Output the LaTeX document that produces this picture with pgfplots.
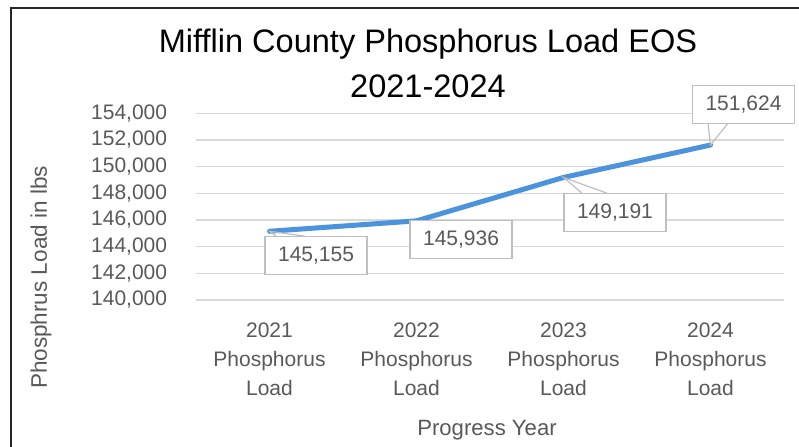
\documentclass[border=0pt]{standalone}
\usepackage{pgfplots}
\pgfplotsset{compat=1.18}
\usepackage{fontspec}
\setmainfont{Liberation Sans}

\definecolor{gridgray}{HTML}{D9D9D9}
\definecolor{textgray}{HTML}{595959}
\definecolor{boxgray}{HTML}{BFBFBF}
\definecolor{loadblue}{HTML}{4B93DC}

\tikzset{
  lbl/.style={draw=boxgray,line width=0.9pt,fill=white,text=textgray,
              minimum width=76.5pt,minimum height=28.5pt,inner sep=0pt,
              font=\fontsize{15.75pt}{18pt}\selectfont},
  lead/.style={boxgray,line width=0.9pt},
}

\begin{document}
\begin{tikzpicture}
\useasboundingbox (0,0) rectangle (599.25pt,334.5pt);

% frame, title and axis titles, laid out in pixel units (y pointing down)
\begin{scope}[x=0.75pt,y=-0.75pt,shift={(0pt,334.5pt)}]
  \draw[line width=1.5pt,black!85] (11,460) -- (11,8) -- (810,8);
  \node[anchor=base,inner sep=0pt,font=\fontsize{24.4pt}{30pt}\selectfont]
    at (428,53) {Mifflin County Phosphorus Load EOS};
  \node[anchor=base,inner sep=0pt,font=\fontsize{24.4pt}{30pt}\selectfont]
    at (428,98) {2021-2024};
  \node[anchor=base,inner sep=0pt,rotate=90,text=textgray,
        font=\fontsize{16.9pt}{20pt}\selectfont]
    at (47,277.5) {Phosphrus Load in lbs};
  \node[anchor=base,inner sep=0pt,text=textgray,
        font=\fontsize{16.6pt}{20pt}\selectfont]
    at (487,435) {Progress Year};
\end{scope}

\begin{axis}[
  at={(147pt,109.5pt)}, anchor=south west,
  scale only axis, width=441pt, height=140pt,
  xmin=-0.5, xmax=3.5,
  ymin=140000, ymax=154000,
  ytick={140000,142000,...,154000},
  xtick={0,1,2,3},
  xticklabels={{2021\\Phosphorus\\Load},{2022\\Phosphorus\\Load},
               {2023\\Phosphorus\\Load},{2024\\Phosphorus\\Load}},
  axis line style={draw=none},
  major tick length=0pt,
  ymajorgrids,
  grid style={gridgray,line width=1.1pt},
  scaled y ticks=false,
  /pgf/number format/.cd, fixed, 1000 sep={,}, assume math mode=true,
  /pgfplots/.cd,
  yticklabel={\pgfmathprintnumber{\tick}},
  yticklabel style={text=textgray,inner sep=0pt,anchor=east,xshift=-21.5pt,
                    font=\fontsize{15.75pt}{18pt}\selectfont},
  xticklabel style={text=textgray,inner sep=0pt,anchor=north,align=center,
                    yshift=-16.7pt,font=\fontsize{15.75pt}{21.75pt}\selectfont},
  clip=false,
]
\addplot[loadblue,line width=3.75pt,line join=round,line cap=round]
  coordinates {(0,145155) (1,145936) (2,149191) (3,151624)};

% data labels with callout leaders
\draw[lead] (axis cs:0,145155) ++(4.9pt,-3.7pt) -- (axis cs:0,145155) -- ++(26.6pt,-3.7pt);
\node[lbl,xshift=34.9pt,yshift=-18pt] at (axis cs:0,145155) {145,155};

\node[lbl,xshift=33.4pt,yshift=-14pt] at (axis cs:1,145936) {145,936};

\draw[lead] (axis cs:2,149191) ++(13.9pt,-11.8pt) -- (axis cs:2,149191) -- ++(32.6pt,-11.8pt);
\node[lbl,xshift=38.6pt,yshift=-26pt] at (axis cs:2,149191) {149,191};

\draw[lead] (axis cs:3,151624) ++(-1.9pt,16.35pt) -- (axis cs:3,151624) -- ++(13.1pt,16.35pt);
\node[lbl,xshift=24.75pt,yshift=30.2pt] at (axis cs:3,151624) {151,624};
\end{axis}
\end{tikzpicture}
\end{document}
